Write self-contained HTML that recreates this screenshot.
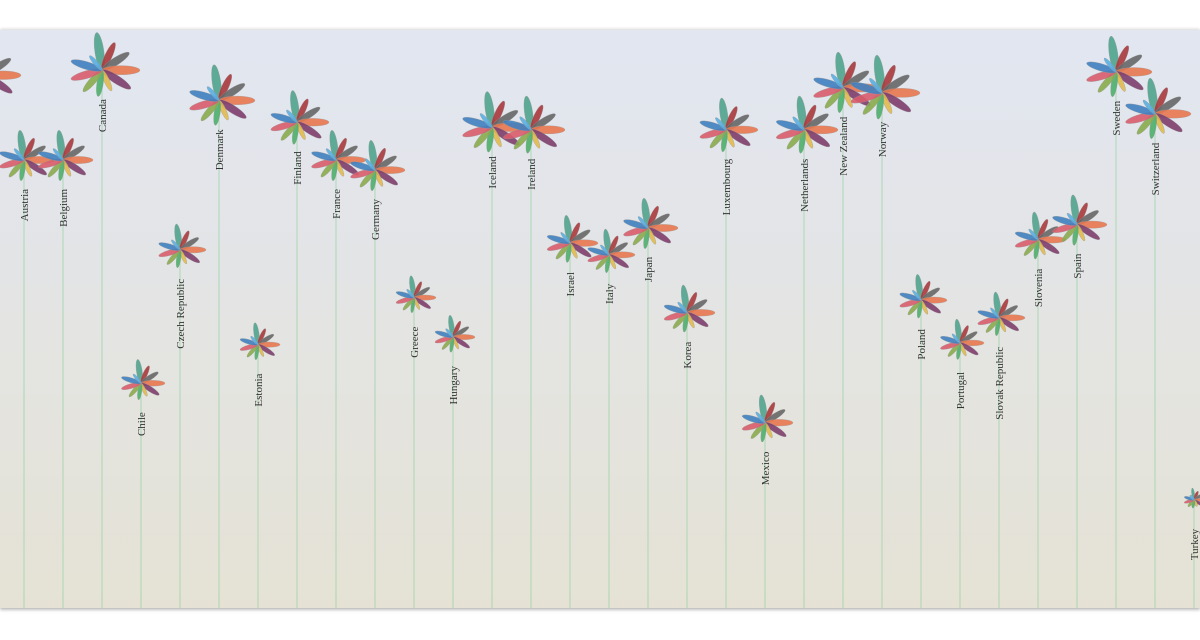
<!DOCTYPE html>
<html><head><meta charset="utf-8">
<style>
html,body{margin:0;padding:0;width:1200px;height:640px;overflow:hidden;background:#fff;font-family:"Liberation Serif",serif}
#bg{position:absolute;left:0;top:30px;width:1200px;height:578px;background:linear-gradient(#e2e6f1,#e5e2d5);box-shadow:0 2px 3px rgba(0,0,0,0.25),0 -1px 3px rgba(0,0,0,0.15)}
svg{position:absolute;left:0;top:0}
</style></head><body>
<div id="bg"></div>
<svg id="chart" width="1200" height="640"></svg>
<script>
const countries=["Australia","Austria","Belgium","Canada","Chile","Czech Republic","Denmark","Estonia","Finland","France","Germany","Greece","Hungary","Iceland","Ireland","Israel","Italy","Japan","Korea","Luxembourg","Mexico","Netherlands","New Zealand","Norway","Poland","Portugal","Slovak Republic","Slovenia","Spain","Sweden","Switzerland","Turkey"];
const scores=[7.30,6.29,6.29,7.36,3.63,5.22,7.00,4.09,6.74,6.29,6.17,4.65,4.18,6.68,6.65,5.30,5.16,5.48,4.47,6.65,3.16,6.65,7.15,7.09,4.62,4.11,4.41,5.34,5.52,7.34,6.84,2.24];
const flowerSize=[36,30,30,38,24,26,36,22,32,30,30,22,22,36,34,28,26,30,28,32,28,34,36,38,26,24,26,28,30,36,36,12];
const petalProfile=[1.0,0.8,0.85,1.0,0.9,0.6,0.7,0.75,0.85,0.85,0.5];
const petalColors=["#4fa38d","#a9383c","#666666","#e8774f","#7d3d6c","#e1b94c","#4caf6a","#8aab4c","#d95c6c","#3f80bf","#5aaee0"];
const svgEl=document.getElementById('chart');
const NS="http://www.w3.org/2000/svg";
const x0=-15,dx=39,baseY=608,plotTop=50,plotBottom=520,maxS=7.6,minS=2.0;
function xScale(i){return x0+i*dx;}
function yScale(s){return plotBottom-(s-minS)/(maxS-minS)*(plotBottom-plotTop);}
countries.forEach((c,i)=>{
  const cx=xScale(i),cy=yScale(scores[i]);
  const g=document.createElementNS(NS,'g');
  
  
  const stem=document.createElementNS(NS,'line');
  
  
  stem.setAttribute('x1',cx);stem.setAttribute('x2',cx);stem.setAttribute('y1',cy);stem.setAttribute('y2',baseY);
  stem.setAttribute('stroke','#9fd4a8');stem.setAttribute('stroke-width','0.8');
  g.appendChild(stem);
  petalProfile.forEach((p,k)=>{
    const L=flowerSize[i]*p;
    const a=-98+k*360/11;
    const e=document.createElementNS(NS,'ellipse');
    
    
    e.setAttribute('cx',L/2);e.setAttribute('cy',0);
    e.setAttribute('rx',L/2);e.setAttribute('ry',Math.max(1.5,L*0.12));
    e.setAttribute('fill',petalColors[k]);e.setAttribute('fill-opacity','0.9');
    e.setAttribute('stroke','#999');e.setAttribute('stroke-width','0.3');
    e.setAttribute('transform',`translate(${cx},${cy}) rotate(${a})`);
    g.appendChild(e);
  });
  const t=document.createElementNS(NS,'text');
  
  
  t.setAttribute('transform',`translate(${cx+4},${cy+29}) rotate(-90)`);
  t.setAttribute('text-anchor','end');
  t.setAttribute('font-size','11');
  t.setAttribute('fill','#333');
  t.setAttribute('font-family','Liberation Serif, serif');
  t.textContent=c;
  g.appendChild(t);
  svgEl.appendChild(g);
});
</script>
</body></html>
